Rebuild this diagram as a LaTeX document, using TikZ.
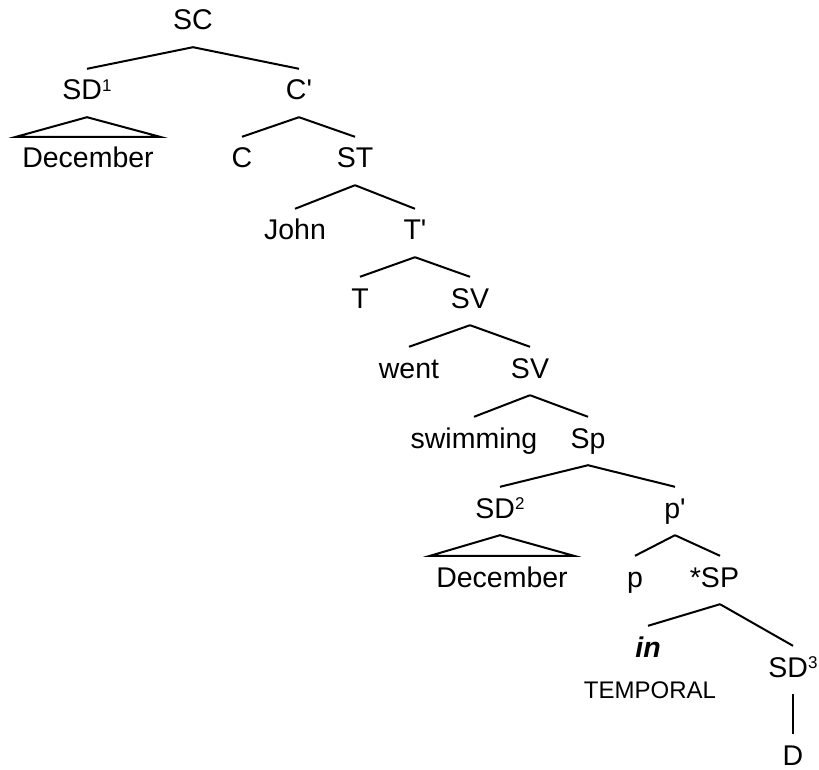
\documentclass[tikz,border=0pt]{standalone}
\usepackage{fontspec}
\setsansfont{Liberation Sans}
\usetikzlibrary{positioning}

\newcommand{\supnum}[1]{\raisebox{0.3em}{\fontsize{17pt}{17pt}\selectfont #1}}
\newcommand{\barmark}{\textquotesingle}

\begin{document}
\begin{tikzpicture}[x=1pt, y=-1pt,
    every node/.style={font=\fontsize{28.5pt}{32pt}\sffamily\selectfont},
    cat/.style={anchor=base, inner xsep=0pt, inner ysep=11pt, text height=20pt, text depth=6pt},
    roof/.style={cat, inner xsep=6pt},
    branch/.style={line width=2pt, line join=miter}
]
    \useasboundingbox (0,0) rectangle (819,770);

    % Clause level
    \node (SC) [cat] at (193,30) {SC};
    \node (SD1) [cat] at (87,100) {SD\supnum{1}};
    \node (Cbar) [cat] at (299,100) {C\barmark};
    \node (Dec1) [roof] at (88,168) {December};
    \node (C) [cat] at (242,168) {C};
    \node (ST) [cat] at (355,168) {ST};

    % Tense level
    \node (John) [cat] at (295,240) {John};
    \node (Tbar) [cat] at (415,240) {T\barmark};
    \node (T) [cat] at (360,308) {T};
    \node (SV1) [cat] at (470,308) {SV};

    % Verb level
    \node (went) [cat] at (409,378) {went};
    \node (SV2) [cat] at (530,378) {SV};
    \node (swimming) [cat] at (474,448) {swimming};
    \node (Sp) [cat] at (588,448) {Sp};

    % Prepositional level
    \node (SD2) [cat] at (500,518) {SD\supnum{2}};
    \node (pbar) [cat] at (675,518) {p\barmark};
    \node (Dec2) [roof] at (502,587) {December};
    \node (p) [cat] at (635,587) {p};
    \node (SPstar) [cat] at (720,587) {\llap{*}SP};
    \node (in) [cat] at (648,657) {\textbf{\textit{in}}};
    \node (SD3) [cat] at (793,677) {SD\supnum{3}};
    \node (temporal) [anchor=base, font=\fontsize{24pt}{28pt}\sffamily\selectfont] at (650,698) {TEMPORAL};
    \node (D) [cat, text depth=2pt] at (793,765) {D};

    % Branches
    \draw [branch] (SC.south) -- (SD1.north);
    \draw [branch] (SC.south) -- (Cbar.north);
    \draw [branch] (SD1.south) -- (Dec1.north west) -- (Dec1.north east) -- cycle;
    \draw [branch] (Cbar.south) -- (C.north);
    \draw [branch] (Cbar.south) -- (ST.north);
    \draw [branch] (ST.south) -- (John.north);
    \draw [branch] (ST.south) -- (Tbar.north);
    \draw [branch] (Tbar.south) -- (T.north);
    \draw [branch] (Tbar.south) -- (SV1.north);
    \draw [branch] (SV1.south) -- (went.north);
    \draw [branch] (SV1.south) -- (SV2.north);
    \draw [branch] (SV2.south) -- (swimming.north);
    \draw [branch] (SV2.south) -- (Sp.north);
    \draw [branch] (Sp.south) -- (SD2.north);
    \draw [branch] (Sp.south) -- (pbar.north);
    \draw [branch] (SD2.south) -- (Dec2.north west) -- (Dec2.north east) -- cycle;
    \draw [branch] (pbar.south) -- (p.north);
    \draw [branch] (pbar.south) -- (SPstar.north);
    \draw [branch] (SPstar.south) -- (in.north);
    \draw [branch] (SPstar.south) -- (SD3.north);
    \draw [branch] (SD3.south) -- (D.north);
\end{tikzpicture}
\end{document}
